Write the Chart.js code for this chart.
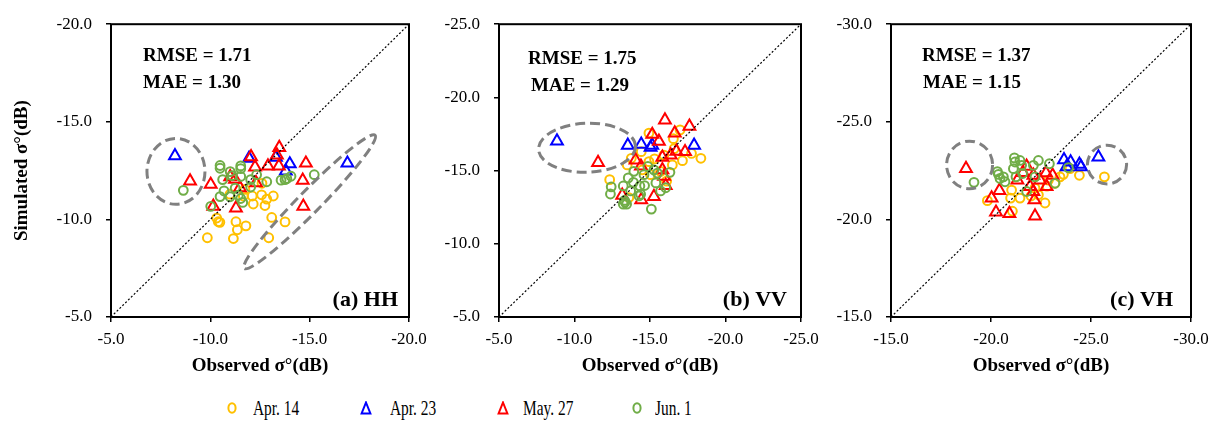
<!DOCTYPE html>
<html><head><meta charset="utf-8">
<script src="https://cdn.jsdelivr.net/npm/chart.js@4.4.1/dist/chart.umd.min.js"></script>
<style>
html,body{margin:0;padding:0;background:#fff;width:1216px;height:421px;overflow:hidden;font-family:'Liberation Serif','Times New Roman',serif}
canvas{position:absolute;top:0}
.leg{position:absolute;top:395px;height:26px;font-size:22px;line-height:26px;color:#000;white-space:nowrap;transform:scaleX(0.7);transform-origin:0 50%}
.mk{position:absolute;top:401px}
</style></head><body>
<canvas id="c1" width="440" height="385" style="left:0px;width:440px;height:385px"></canvas>
<canvas id="c2" width="420" height="385" style="left:420px;width:420px;height:385px"></canvas>
<canvas id="c3" width="396" height="385" style="left:820px;width:396px;height:385px"></canvas>

<svg class="mk" style="left:226px" width="12" height="14"><ellipse cx="6" cy="7" rx="3.6" ry="4.8" fill="none" stroke="#FFC000" stroke-width="2"/></svg>
<div class="leg" style="left:253px">Apr. 14</div>
<svg class="mk" style="left:360px" width="12" height="14"><polygon points="6,1.5 10.4,12.5 1.6,12.5" fill="none" stroke="#0000FF" stroke-width="2"/></svg>
<div class="leg" style="left:390px">Apr. 23</div>
<svg class="mk" style="left:497px" width="12" height="14"><polygon points="6,1.5 10.4,12.5 1.6,12.5" fill="none" stroke="#FF0000" stroke-width="2"/></svg>
<div class="leg" style="left:523px">May. 27</div>
<svg class="mk" style="left:631px" width="12" height="14"><ellipse cx="6" cy="7" rx="3.6" ry="4.8" fill="none" stroke="#70AD47" stroke-width="2"/></svg>
<div class="leg" style="left:655px">Jun. 1</div>

<script>
// ---------- DATA ----------
const seriesNames = ['Apr. 14', 'Apr. 23', 'May. 27', 'Jun. 1'];

const hhTicks = [-20, -15, -10, -5];
const vvTicks = [-25, -20, -15, -10, -5];
const vhTicks = [-30, -25, -20, -15];

// HH: [observed, simulated]
const hhApr14 = [[-9.85,-9.06],[-11.16,-9.02],[-11.36,-9.47],[-11.79,-9.67],[-11.29,-9.88],[-10.40,-9.88],[-10.48,-9.85],[-10.32,-10.07],[-12.94,-9.06],[-13.09,-10.10],[-13.76,-9.87],[-12.75,-10.71],[-12.84,-11.04],[-13.17,-11.20],[-12.58,-11.26],[-12.11,-11.20],[-12.16,-10.79],[-11.74,-11.54],[-10.99,-11.29],[-12.60,-11.85],[-11.66,-11.20]];
const hhApr23 = [[-8.22,-13.26],[-11.95,-13.13],[-13.30,-13.18],[-14.00,-12.84],[-13.80,-12.48],[-16.90,-12.88]];
const hhMay27 = [[-8.98,-11.96],[-10.02,-11.79],[-10.15,-10.67],[-11.29,-10.58],[-12.05,-13.21],[-12.25,-12.68],[-11.00,-12.18],[-11.49,-11.62],[-12.30,-11.87],[-12.90,-12.73],[-13.47,-13.68],[-13.35,-13.30],[-13.45,-12.73],[-14.81,-12.88],[-14.65,-12.00],[-14.68,-10.67],[-11.24,-12.05]];
const hhJun1 = [[-8.64,-11.49],[-10.02,-10.67],[-10.49,-12.76],[-10.49,-12.62],[-10.62,-12.04],[-10.69,-11.46],[-10.49,-11.17],[-10.99,-11.16],[-11.10,-12.24],[-11.53,-12.74],[-11.53,-12.60],[-11.53,-12.20],[-11.41,-11.24],[-11.53,-11.07],[-11.63,-10.87],[-12.03,-12.04],[-12.03,-11.66],[-12.33,-12.29],[-12.84,-11.93],[-13.56,-12.01],[-13.76,-12.04],[-13.85,-12.09],[-14.06,-12.21],[-15.23,-12.29],[-11.00,-12.45],[-11.25,-11.60]];

// VV
const vvApr14 = [[-12.33,-14.38],[-14.93,-17.56],[-16.99,-17.78],[-16.55,-17.18],[-14.42,-16.29],[-13.76,-15.84],[-13.49,-15.39],[-14.93,-15.61],[-14.49,-15.05],[-15.70,-14.95],[-15.92,-16.06],[-16.48,-15.39],[-17.15,-15.68],[-17.75,-16.17],[-18.37,-15.84],[-16.10,-14.28],[-15.04,-14.72],[-13.60,-13.16],[-15.30,-15.80],[-16.60,-16.50]];
const vvApr23 = [[-8.84,-17.02],[-13.53,-16.73],[-14.42,-16.80],[-15.04,-16.58],[-15.15,-16.73],[-17.92,-16.73]];
const vvMay27 = [[-11.56,-15.55],[-15.99,-18.45],[-16.64,-17.56],[-17.61,-18.03],[-15.15,-17.47],[-15.59,-17.00],[-14.04,-15.72],[-15.82,-15.90],[-16.37,-16.06],[-16.75,-16.31],[-17.32,-16.29],[-13.16,-13.31],[-14.42,-13.00],[-15.26,-13.22],[-15.93,-14.61],[-15.82,-15.05],[-16.04,-13.98],[-14.40,-15.30]];
const vvJun1 = [[-15.09,-12.37],[-12.43,-13.89],[-12.38,-13.40],[-13.23,-13.95],[-13.31,-12.96],[-13.23,-12.71],[-13.45,-12.71],[-13.35,-12.85],[-13.56,-14.50],[-13.72,-13.61],[-13.93,-14.95],[-14.33,-13.95],[-14.60,-14.72],[-14.64,-13.98],[-14.86,-15.28],[-15.26,-15.05],[-15.49,-14.83],[-15.39,-14.16],[-15.70,-13.61],[-16.04,-13.83],[-16.32,-14.88],[-14.38,-13.38],[-14.27,-13.27],[-13.90,-14.20]];

// VH
const vhApr14 = [[-19.82,-20.96],[-21.03,-21.50],[-20.98,-21.09],[-21.45,-21.09],[-21.07,-20.42],[-22.70,-20.84],[-22.37,-21.26],[-22.00,-21.20],[-22.87,-22.01],[-23.20,-21.85],[-23.45,-22.18],[-23.62,-22.31],[-24.42,-22.26],[-25.67,-22.18],[-22.20,-21.60],[-23.95,-22.60],[-22.80,-21.70]];
const vhApr23 = [[-23.65,-23.05],[-23.98,-22.94],[-24.42,-22.82],[-24.50,-22.69],[-23.78,-22.69],[-25.37,-23.19]];
const vhMay27 = [[-18.75,-22.60],[-20.42,-21.48],[-20.03,-21.09],[-20.25,-20.37],[-20.92,-20.30],[-22.20,-20.17],[-22.17,-21.00],[-22.78,-21.68],[-22.75,-22.38],[-23.08,-22.26],[-21.32,-22.01],[-21.78,-22.72],[-22.12,-22.26],[-22.45,-22.01],[-21.95,-21.68],[-22.12,-21.43],[-21.60,-22.40]];
const vhJun1 = [[-19.15,-21.90],[-20.32,-22.45],[-20.37,-22.31],[-20.45,-22.10],[-20.62,-22.18],[-20.70,-21.93],[-21.17,-23.15],[-21.20,-22.94],[-21.12,-22.60],[-21.45,-23.02],[-21.53,-22.77],[-21.25,-22.18],[-22.12,-22.77],[-22.37,-23.02],[-22.92,-22.85],[-21.58,-22.35],[-22.20,-22.18],[-21.78,-21.43],[-23.20,-21.85],[-23.87,-22.65]];

const hhStats = ['RMSE = 1.71', 'MAE = 1.30'];
const vvStats = ['RMSE = 1.75', 'MAE = 1.29'];
const vhStats = ['RMSE = 1.37', 'MAE = 1.15'];

// ---------- STYLE / ANNOTATIONS ----------
const FONT = "'Liberation Serif', 'Times New Roman', serif";
const STYLE = {
  colors: ['#FFC000', '#0000FF', '#FF0000', '#70AD47'],
  shapes: ['circle', 'triangle', 'triangle', 'circle']
};
// ellipse: centre (data), semi-axes in x-axis units, rotation in screen degrees
const hhEllipses = [{cx:-8.27, cy:-12.46, a:1.46, b:1.66, rot:0}, {cx:-15.0, cy:-10.9, a:4.7, b:0.56, rot:-45.5}];
const vvEllipses = [{cx:-10.83, cy:-16.56, a:3.21, b:1.62, rot:-2}];
const vhEllipses = [{cx:-18.93, cy:-22.79, a:1.15, b:1.19, rot:0}, {cx:-25.8, cy:-22.81, a:0.98, b:0.97, rot:0}];

const decorPlugin = {
  id: 'decor',
  afterDatasetsDraw(chart, args, o) {
    const {ctx, chartArea: ca, scales: {x, y}} = chart;
    const ppu = Math.abs(x.getPixelForValue(0) - x.getPixelForValue(1));
    ctx.save();
    (o.ellipses || []).forEach(e => {
      ctx.beginPath();
      ctx.ellipse(x.getPixelForValue(e.cx), y.getPixelForValue(e.cy), e.a * ppu, e.b * ppu, e.rot * Math.PI / 180, 0, 2 * Math.PI);
      ctx.setLineDash([10, 5]);
      ctx.lineWidth = 3;
      ctx.strokeStyle = '#808080';
      ctx.stroke();
    });
    ctx.setLineDash([]);
    ctx.fillStyle = '#000';
    ctx.textBaseline = 'alphabetic';
    ctx.textAlign = 'left';
    ctx.font = 'bold 19px ' + FONT;
    ctx.fillText(o.stats[0], ca.left + o.statDx[0], ca.top + o.statDy[0]);
    ctx.fillText(o.stats[1], ca.left + o.statDx[1], ca.top + o.statDy[1]);
    ctx.textAlign = 'right';
    ctx.font = 'bold 22px ' + FONT;
    ctx.fillText(o.label, ca.right - o.labelDx, ca.bottom - 11);
    ctx.lineWidth = 2;
    ctx.strokeStyle = '#000';
    ctx.strokeRect(ca.left, ca.top, ca.right - ca.left, ca.bottom - ca.top);
    ctx.restore();
  }
};

function makeChart(p) {
  const datasets = p.series.map((pts, i) => ({
    label: seriesNames[i],
    data: pts.map(([a, b]) => ({x: a, y: b})),
    pointStyle: STYLE.shapes[i],
    pointRadius: STYLE.shapes[i] === 'circle' ? 4.4 : 6.8,
    pointBorderWidth: 2,
    borderColor: STYLE.colors[i],
    backgroundColor: 'rgba(0,0,0,0)',
    showLine: false,
    order: 4 - i
  }));
  const lo = p.ticks[0], hi = p.ticks[p.ticks.length - 1];
  datasets.push({label: '1:1', data: [{x: hi, y: hi}, {x: lo, y: lo}], showLine: true, pointRadius: 0,
    borderColor: '#000', borderWidth: 1.2, borderDash: [2, 2], order: 0});
  const axisCommon = (isX) => ({
    type: 'linear', min: lo, max: hi, reverse: true,
    afterBuildTicks: s => { s.ticks = p.ticks.map(v => ({value: v})); },
    grid: {display: true, drawOnChartArea: false, drawTicks: true, tickLength: 5, color: '#000', lineWidth: 1.5},
    border: {display: false},
    ticks: {callback: v => Number(v).toFixed(1), color: '#000', font: {family: FONT, size: 17}, padding: isX ? 7 : 14, maxRotation: 0, autoSkip: false}
  });
  new Chart(document.getElementById(p.canvas), {
    type: 'scatter',
    data: {datasets},
    plugins: [decorPlugin],
    options: {
      responsive: false, animation: false, events: [],
      layout: {padding: {top: 18, right: p.padRight, bottom: 0, left: 0}},
      plugins: {
        legend: {display: false}, tooltip: {enabled: false},
        decor: {ellipses: p.ellipses, stats: p.stats, statDx: p.statDx, statDy: p.statDy, label: p.label, labelDx: p.labelDx}
      },
      scales: {
        x: Object.assign(axisCommon(true), {
          afterFit: s => { s.height = 68; },
          title: {display: true, text: 'Observed σ°(dB)', color: '#000', font: {family: FONT, size: 19, weight: 'bold'}, padding: {top: 0, bottom: 8}}
        }),
        y: Object.assign(axisCommon(false), {
          afterFit: s => { s.width = p.yWidth; },
          title: {display: p.yTitle, text: 'Simulated σ°(dB)', color: '#000', font: {family: FONT, size: 19, weight: 'bold'}, padding: {top: 11, bottom: 0}}
        })
      }
    }
  });
}

makeChart({canvas: 'c1', ticks: hhTicks, series: [hhApr14, hhApr23, hhMay27, hhJun1], stats: hhStats, label: '(a) HH',
  ellipses: hhEllipses, yTitle: true, yWidth: 111, padRight: 31, statDx: [32, 32], statDy: [37, 64], labelDx: 11});
makeChart({canvas: 'c2', ticks: vvTicks, series: [vvApr14, vvApr23, vvMay27, vvJun1], stats: vvStats, label: '(b) VV',
  ellipses: vvEllipses, yTitle: false, yWidth: 79, padRight: 39, statDx: [29, 32], statDy: [40, 67], labelDx: 14});
makeChart({canvas: 'c3', ticks: vhTicks, series: [vhApr14, vhApr23, vhMay27, vhJun1], stats: vhStats, label: '(c) VH',
  ellipses: vhEllipses, yTitle: false, yWidth: 71, padRight: 25, statDx: [31, 32], statDy: [37, 64], labelDx: 18});
</script>
</body></html>
